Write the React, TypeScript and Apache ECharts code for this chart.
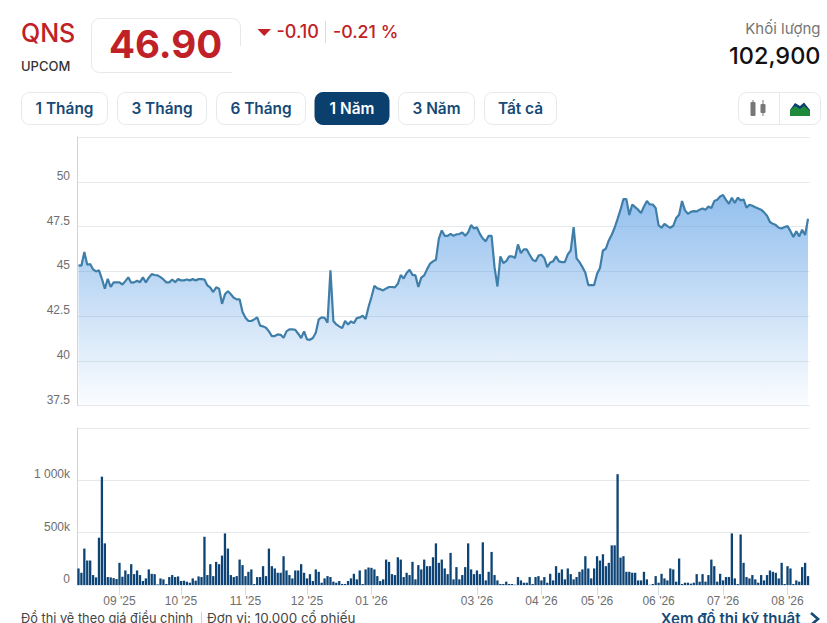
import React, { useEffect, useRef } from "react";
import * as echarts from "echarts";

const prices = [
  45.33,45.31,46.07,45.36,45.40,45.10,44.99,45.05,44.58,44.02,44.58,44.12,44.38,44.38,44.38,44.26,44.45,44.66,44.36,44.38,
  44.47,44.39,44.66,44.38,44.64,44.84,44.79,44.77,44.67,44.54,44.38,44.38,44.54,44.39,44.56,44.49,44.49,44.54,44.49,44.56,
  44.49,44.56,44.56,44.54,44.21,44.08,43.84,44.10,44.02,43.18,43.71,43.89,43.71,43.52,43.43,43.43,42.72,42.40,42.22,42.22,
  42.31,42.42,41.96,41.92,41.84,41.64,41.38,41.38,41.47,41.45,41.28,41.64,41.75,41.75,41.73,41.51,41.27,41.64,41.19,41.17,
  41.27,41.56,42.31,42.42,42.40,42.12,45.05,42.22,42.03,41.92,41.82,42.22,42.03,42.20,42.10,42.38,42.42,42.51,42.33,43.00,
  43.56,44.19,44.04,44.00,43.93,44.04,44.12,44.12,44.10,44.30,44.79,44.60,44.90,45.08,44.80,44.77,44.12,44.64,44.77,45.12,
  45.42,45.55,45.64,46.82,47.28,46.98,46.98,47.09,46.98,47.06,47.08,47.17,46.98,47.17,47.58,47.39,47.45,47.09,46.83,46.67,
  46.98,46.98,45.23,44.15,45.83,45.46,45.57,45.83,45.83,45.74,46.50,46.01,46.22,46.22,45.92,45.64,45.55,45.87,45.92,45.74,
  45.23,45.49,45.55,45.83,45.55,45.51,45.51,45.94,46.16,47.47,45.72,45.51,45.23,44.92,44.23,44.23,44.23,44.86,45.18,46.16,
  46.26,46.72,47.04,47.43,47.93,48.44,49.03,49.03,48.14,48.73,48.58,48.44,48.25,48.62,48.92,48.73,48.73,48.53,47.56,47.43,
  47.65,47.52,47.43,47.54,47.97,48.16,48.92,48.40,48.21,48.32,48.36,48.34,48.44,48.51,48.44,48.62,48.53,48.92,48.99,49.18,
  49.26,48.99,48.77,49.11,48.81,49.11,48.96,49.01,48.55,48.72,48.66,48.58,48.51,48.44,48.29,48.10,47.75,47.65,47.58,47.43,
  47.39,47.47,47.52,47.24,46.91,47.23,46.95,47.32,47.02,47.93,
];

const volumesK = [
  158,117,348,234,234,95,73,452,1035,398,76,73,66,57,212,79,139,104,199,104,
  139,95,38,63,149,107,104,6,63,54,10,76,95,76,82,38,41,32,22,63,
  41,82,76,461,95,199,85,221,199,281,493,348,95,76,85,243,190,85,126,149,
  10,76,76,180,85,348,180,158,117,117,275,139,95,63,139,139,199,117,63,
  104,38,149,126,22,63,85,76,32,22,38,10,10,38,63,107,54,139,10,149,
  167,164,149,85,38,54,243,221,104,95,265,243,76,117,95,221,54,190,149,243,
  180,180,265,398,212,243,158,104,307,54,171,54,95,171,398,149,104,139,104,408,
  44,126,316,95,44,10,10,32,10,10,3,76,44,22,22,76,10,76,85,44,
  76,22,107,44,180,117,149,54,158,
  104,54,76,126,149,275,158,63,158,275,234,294,180,212,379,379,1059,262,275,126,
  126,117,117,44,44,126,54,2,10,85,22,107,63,44,158,149,32,253,10,22,
  22,13,22,104,32,104,32,95,243,180,32,107,44,76,76,493,63,10,483,212,
  76,63,95,54,22,95,44,95,139,126,117,63,212,10,180,158,10,44,32,171,
  212,85,
];

const monthLabels = ["09 '25", "10 '25", "11 '25", "12 '25", "01 '26", "03 '26", "04 '26", "05 '26", "06 '26", "07 '26", "08 '26"];
const monthIndexes = [14, 35, 57, 78, 100, 136, 158, 177, 198, 220, 242];

const priceTicks = { min: 37.5, max: 52.5, step: 2.5 };
const volumeTicks = { min: 0, max: 1500, step: 500 };
const volumeTickLabels: Record<number, string> = { 0: "0", 500: "500k", 1000: "1 000k", 1500: "" };

const rangeButtons = [
  { label: "1 Tháng", x0: 21.5, x1: 107.5, active: false },
  { label: "3 Tháng", x0: 117.5, x1: 206.5, active: false },
  { label: "6 Tháng", x0: 216.5, x1: 305.5, active: false },
  { label: "1 Năm", x0: 315, x1: 389, active: true },
  { label: "3 Năm", x0: 398.5, x1: 474.5, active: false },
  { label: "Tất cả", x0: 484.5, x1: 556.5, active: false },
];

const categories = prices.map((_, i) => {
  const k = monthIndexes.indexOf(i);
  return k >= 0 ? monthLabels[k] : "d" + i;
});

const RED = "#c02126";
const NAVY = "#164a76";
const SANS = "Inter";

function txt(text: string, x: number, y: number, fontSize: number, fill: string, fontWeight: any = 400, align = "left") {
  return {
    type: "text",
    x,
    y,
    silent: true,
    style: { text, fontFamily: SANS, fontSize, fontWeight, fill, align, verticalAlign: "middle" },
  };
}

function headerGraphics(): any[] {
  const g: any[] = [];
  g.push({
    type: "rect",
    shape: { x: 91.5, y: 18.5, width: 149, height: 54, r: 8 },
    style: { fill: "#fff", stroke: "#e6e8ea", lineWidth: 1 },
  });
  g.push({ type: "rect", shape: { x: 232, y: 46, width: 10, height: 28 }, style: { fill: "#fff" } });
  g.push(txt("QNS", 21, 33, 25, RED, 500));
  g.push(txt("UPCOM", 21, 65.5, 13, "#333", 500));
  g.push(txt("46.90", 165.5, 44, 38.5, RED, 700, "center"));
  g.push({ type: "polygon", shape: { points: [[257.5, 29], [271, 29], [264.2, 36]] }, style: { fill: RED } });
  g.push(txt("-0.10", 276.5, 31, 18, RED, 500));
  g.push({ type: "line", shape: { x1: 325.5, y1: 21, x2: 325.5, y2: 43 }, style: { stroke: "#dcdcdc", lineWidth: 1 } });
  g.push(txt("-0.21 %", 333, 31, 17.8, RED, 500));
  g.push(txt("Khối lượng", 820.5, 28.5, 15, "#757575", 400, "right"));
  g.push(txt("102,900", 820.5, 55.5, 23.5, "#111", 500, "right"));

  rangeButtons.forEach((b) => {
    g.push({
      type: "rect",
      shape: { x: b.x0, y: 92.5, width: b.x1 - b.x0, height: 32, r: 8 },
      style: { fill: b.active ? "#0b3f6e" : "#fff", stroke: b.active ? "#0b3f6e" : "#e6e9ec", lineWidth: 1 },
    });
    g.push(txt(b.label, (b.x0 + b.x1) / 2, 108.5, 15.4, b.active ? "#fff" : NAVY, 600, "center"));
  });

  g.push({
    type: "rect",
    shape: { x: 738.5, y: 92.5, width: 82, height: 32, r: 8 },
    style: { fill: "#fff", stroke: "#e6e9ec", lineWidth: 1 },
  });
  g.push({ type: "line", shape: { x1: 779.5, y1: 93, x2: 779.5, y2: 124 }, style: { stroke: "#e6e9ec", lineWidth: 1 } });
  [[753, 101, 15], [763, 103, 10]].forEach(([cx, top, h]) => {
    g.push({ type: "line", shape: { x1: cx, y1: 100, x2: cx, y2: 116 }, style: { stroke: "#777", lineWidth: 1 } });
    g.push({ type: "rect", shape: { x: cx - 2.5, y: top + 1, width: 5, height: h - 1, r: 1 }, style: { fill: "#777" } });
  });
  g.push({
    type: "polygon",
    shape: { points: [[790, 110], [795, 103], [800, 106], [804, 102.5], [810, 110], [810, 112], [790, 112]] },
    style: { fill: "#0b3f6e" },
  });
  g.push({
    type: "polygon",
    shape: { points: [[790, 110], [795, 106], [800, 109], [804, 106], [810, 111], [810, 116], [790, 116]] },
    style: { fill: "#1f8a3c" },
  });

  g.push({ ...txt("Đồ thị vẽ theo giá điều chỉnh", 21, 617.8, 13.4, "#444", 400), scaleX: 0.955 });
  g.push({ type: "line", shape: { x1: 201.5, y1: 612, x2: 201.5, y2: 623 }, style: { stroke: "#cfcfcf", lineWidth: 1 } });
  g.push(txt("Đơn vị: 10.000 cổ phiếu", 207, 617.8, 13.4, "#444", 400));
  g.push(txt("Xem đồ thị kỹ thuật", 800.5, 618.5, 15, NAVY, 600, "right"));
  g.push({
    type: "polyline",
    shape: { points: [[811, 613], [818, 619], [811, 625]] },
    style: { stroke: NAVY, lineWidth: 2.6, fill: "none" },
  });
  return g;
}

function buildOption(): any {
  const isMonth = (i: number) => monthIndexes.indexOf(i) >= 0;
  const axisText = { fontFamily: "Liberation Sans", fontSize: 12, color: "#6e6e6e" };
  return {
    animation: false,
    backgroundColor: "#fff",
    tooltip: { show: false },
    graphic: headerGraphics(),
    grid: [
      { left: 77, width: 732.5, top: 137, height: 268.5 },
      { left: 77, width: 732.5, top: 428, height: 157 },
    ],
    xAxis: [
      {
        type: "category",
        gridIndex: 0,
        data: categories,
        boundaryGap: true,
        axisLine: { show: false },
        axisTick: { show: false },
        axisLabel: { show: false },
        splitLine: { show: false },
      },
      {
        type: "category",
        gridIndex: 1,
        data: categories,
        boundaryGap: true,
        axisLine: { show: true, lineStyle: { color: "#e3e8ee", width: 1 } },
        axisTick: {
          show: true,
          alignWithLabel: true,
          length: 10,
          interval: (i: number) => isMonth(i),
          lineStyle: { color: "#d3deea", width: 1 },
        },
        axisLabel: {
          ...axisText,
          margin: 10,
          interval: (i: number) => isMonth(i),
          formatter: (v: string) => (monthLabels.indexOf(v) >= 0 ? v : ""),
        },
        splitLine: { show: false },
      },
    ],
    yAxis: [
      {
        type: "value",
        gridIndex: 0,
        min: priceTicks.min,
        max: priceTicks.max,
        interval: priceTicks.step,
        axisLine: { show: true, lineStyle: { color: "#ccd6e2", width: 1 } },
        axisTick: { show: false },
        axisLabel: {
          ...axisText,
          margin: 7,
          verticalAlign: "bottom",
          lineHeight: 12,
          formatter: (v: number) => (v >= priceTicks.max ? "" : String(v)),
        },
        splitLine: { show: true, lineStyle: { color: "#e6e9ec", width: 1 } },
      },
      {
        type: "value",
        gridIndex: 1,
        min: volumeTicks.min,
        max: volumeTicks.max,
        interval: volumeTicks.step,
        axisLine: { show: true, lineStyle: { color: "#ccd6e2", width: 1 } },
        axisTick: { show: false },
        axisLabel: {
          ...axisText,
          margin: 7,
          verticalAlign: "bottom",
          lineHeight: 12,
          formatter: (v: number) => volumeTickLabels[v] ?? "",
        },
        splitLine: { show: true, lineStyle: { color: "#e6e9ec", width: 1 } },
      },
    ],
    series: [
      {
        type: "line",
        xAxisIndex: 0,
        yAxisIndex: 0,
        data: prices,
        showSymbol: false,
        smooth: false,
        lineStyle: { color: "#3f7ea9", width: 2.2 },
        itemStyle: { color: "#3f7ea9" },
        areaStyle: {
          color: new echarts.graphic.LinearGradient(0, 0, 0, 1, [
            { offset: 0, color: "rgba(72,147,226,0.84)" },
            { offset: 1, color: "rgba(72,147,226,0.03)" },
          ]),
        },
      },
      {
        type: "bar",
        xAxisIndex: 1,
        yAxisIndex: 1,
        data: volumesK,
        barWidth: 2.3,
        itemStyle: { color: "#0d4475" },
      },
    ],
  };
}

export default function App() {
  const ref = useRef<HTMLDivElement>(null);
  useEffect(() => {
    if (!ref.current) return;
    const chart = echarts.init(ref.current, undefined, { renderer: "svg" });
    chart.setOption(buildOption());
    return () => chart.dispose();
  }, []);
  return (
    <div style={{ position: "fixed", left: 0, top: 0, width: 827, height: 623, overflow: "hidden" }}>
      <div ref={ref} style={{ width: 827, height: 623 }} />
    </div>
  );
}
